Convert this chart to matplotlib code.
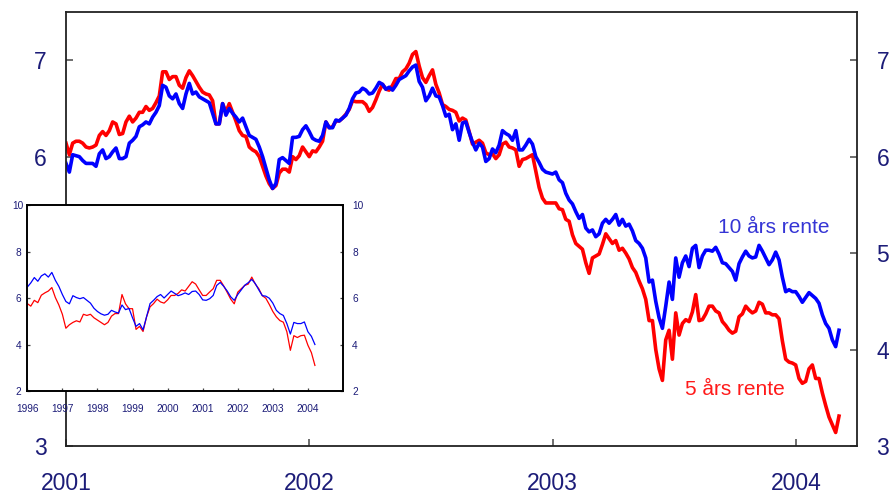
import numpy as np
import matplotlib
matplotlib.use('Agg')
import matplotlib.pyplot as plt

plt.rcParams['font.family'] = ['Liberation Sans', 'DejaVu Sans']

# ---------------- data ----------------
# main chart: observations every 5 days starting 1 Jan 2001
main_start_year = 2001.0
main_step_days = 5

ten_year = [
    5.93, 5.84, 6.02, 6.01, 6.00, 5.96, 5.93, 5.93, 5.93, 5.90,
    6.03, 6.07, 5.98, 6.00, 6.05, 6.09, 5.98, 5.98, 6.00, 6.14,
    6.17, 6.21, 6.31, 6.33, 6.36, 6.34, 6.41, 6.46, 6.53, 6.74,
    6.72, 6.63, 6.60, 6.65, 6.55, 6.50, 6.65, 6.76, 6.65, 6.67,
    6.62, 6.60, 6.58, 6.56, 6.45, 6.34, 6.34, 6.55, 6.43, 6.50,
    6.45, 6.41, 6.36, 6.40, 6.31, 6.22, 6.20, 6.18, 6.10, 6.00,
    5.88, 5.76, 5.67, 5.72, 5.97, 5.99, 5.96, 5.93, 6.20, 6.20,
    6.21, 6.28, 6.32, 6.26, 6.19, 6.17, 6.16, 6.22, 6.36, 6.30,
    6.30, 6.38, 6.37, 6.40, 6.43, 6.50, 6.60, 6.66, 6.67, 6.71,
    6.69, 6.65, 6.66, 6.71, 6.77, 6.75, 6.70, 6.72, 6.69, 6.74,
    6.80, 6.82, 6.84, 6.89, 6.93, 6.95, 6.78, 6.72, 6.58, 6.63,
    6.71, 6.63, 6.62, 6.53, 6.42, 6.44, 6.28, 6.34, 6.17, 6.35,
    6.36, 6.25, 6.15, 6.07, 6.14, 6.10, 5.95, 5.98, 6.08, 6.04,
    6.12, 6.27, 6.24, 6.22, 6.17, 6.27, 6.07, 6.07, 6.12, 6.18,
    6.13, 6.00, 5.94, 5.87, 5.84, 5.83, 5.82, 5.84, 5.76, 5.73,
    5.62, 5.55, 5.51, 5.43, 5.36, 5.40, 5.26, 5.22, 5.24, 5.17,
    5.20, 5.31, 5.35, 5.31, 5.35, 5.40, 5.29, 5.35, 5.28, 5.30,
    5.23, 5.13, 5.10, 5.05, 4.95, 4.70, 4.72, 4.50, 4.33, 4.22,
    4.45, 4.70, 4.52, 4.95, 4.75, 4.90, 4.97, 4.86, 5.05, 5.08,
    4.85, 4.97, 5.03, 5.03, 5.02, 5.06, 4.99, 4.90, 4.89, 4.85,
    4.81, 4.72, 4.89, 4.96, 5.02, 4.97, 4.95, 4.96, 5.08, 5.02,
    4.95, 4.88, 4.93, 5.01, 4.93, 4.75, 4.60, 4.62, 4.60, 4.60,
    4.55, 4.49, 4.54, 4.59, 4.56, 4.53, 4.48, 4.36, 4.27, 4.22,
    4.10, 4.03, 4.20,
]

five_year = [
    6.14, 6.02, 6.14, 6.16, 6.16, 6.14, 6.10, 6.09, 6.10, 6.12,
    6.22, 6.26, 6.22, 6.27, 6.36, 6.34, 6.23, 6.24, 6.36, 6.42,
    6.36, 6.40, 6.46, 6.46, 6.52, 6.48, 6.50, 6.56, 6.63, 6.88,
    6.88, 6.80, 6.83, 6.83, 6.74, 6.71, 6.82, 6.89, 6.84, 6.78,
    6.72, 6.67, 6.65, 6.64, 6.58, 6.34, 6.34, 6.55, 6.46, 6.55,
    6.46, 6.37, 6.27, 6.22, 6.21, 6.10, 6.07, 6.05, 6.00, 5.90,
    5.80, 5.72, 5.67, 5.70, 5.83, 5.87, 5.87, 5.84, 6.00, 5.97,
    6.01, 6.10, 6.05, 6.00, 6.06, 6.05, 6.10, 6.16, 6.36, 6.30,
    6.31, 6.37, 6.37, 6.40, 6.44, 6.49, 6.58, 6.57, 6.57, 6.57,
    6.54, 6.47, 6.51, 6.59, 6.68, 6.75, 6.70, 6.69, 6.74, 6.81,
    6.81, 6.88, 6.91, 6.97, 7.06, 7.09, 6.94, 6.82, 6.77, 6.84,
    6.90, 6.75, 6.66, 6.54, 6.52, 6.49, 6.48, 6.46, 6.37, 6.40,
    6.38, 6.26, 6.13, 6.15, 6.17, 6.14, 6.04, 6.02, 6.03, 5.98,
    6.02, 6.13, 6.15, 6.10, 6.09, 6.07, 5.90, 5.97, 5.98, 6.00,
    6.02, 5.85, 5.68, 5.57, 5.52, 5.52, 5.52, 5.52, 5.46, 5.45,
    5.35, 5.33, 5.19, 5.10, 5.07, 5.04, 4.90, 4.79, 4.95, 4.97,
    4.99, 5.09, 5.20, 5.15, 5.10, 5.13, 5.03, 5.05, 5.00, 4.94,
    4.85, 4.80, 4.71, 4.63, 4.52, 4.30, 4.30, 4.00, 3.80, 3.68,
    4.10, 4.20, 3.90, 4.38, 4.15, 4.27, 4.31, 4.29, 4.39, 4.57,
    4.30, 4.31, 4.37, 4.45, 4.45, 4.40, 4.38, 4.29, 4.25, 4.20,
    4.17, 4.19, 4.34, 4.37, 4.45, 4.41, 4.38, 4.40, 4.49, 4.47,
    4.38, 4.38, 4.36, 4.36, 4.32, 4.09, 3.90, 3.87, 3.86, 3.84,
    3.70, 3.65, 3.67, 3.80, 3.84, 3.70, 3.70, 3.55, 3.42, 3.30,
    3.22, 3.14, 3.31,
]

# inset chart: observations every 0.1 year starting 1996
inset_start_year = 1996.0
inset_step_years = 0.1

inset_ten = [
    6.47, 6.65, 6.88, 6.72, 6.95, 7.04, 6.90, 7.10, 6.76, 6.50,
    6.15, 5.85, 5.75, 6.10, 6.02, 5.97, 6.02, 5.90, 5.78, 5.56,
    5.42, 5.32, 5.26, 5.30, 5.47, 5.40, 5.35, 5.70, 5.50, 5.55,
    5.15, 4.78, 4.90, 4.63, 5.19, 5.76, 5.90, 6.06, 6.15, 6.00,
    6.15, 6.30, 6.20, 6.10, 6.15, 6.22, 6.15, 6.28, 6.30, 6.15,
    5.92, 5.90, 5.97, 6.11, 6.54, 6.67, 6.50, 6.30, 6.05, 5.90,
    6.15, 6.35, 6.55, 6.66, 6.80, 6.62, 6.35, 6.10, 6.08, 5.99,
    5.78, 5.47, 5.33, 5.25, 4.90, 4.45, 4.95, 4.90, 4.90, 4.97,
    4.55, 4.35, 4.00,
]

inset_five = [
    5.76, 5.65, 5.90, 5.80, 6.12, 6.22, 6.30, 6.45, 6.02, 5.70,
    5.30, 4.70, 4.85, 4.95, 5.02, 4.97, 5.30, 5.25, 5.30, 5.15,
    5.05, 4.95, 4.85, 4.95, 5.22, 5.33, 5.33, 6.15, 5.75, 5.54,
    5.54, 4.65, 4.78, 4.56, 5.19, 5.62, 5.76, 5.95, 5.83, 5.78,
    5.92, 6.11, 6.11, 6.20, 6.35, 6.30, 6.50, 6.70, 6.60, 6.35,
    6.11, 6.11, 6.26, 6.40, 6.76, 6.76, 6.52, 6.24, 5.95, 5.75,
    6.25, 6.40, 6.54, 6.60, 6.90, 6.60, 6.40, 6.10, 5.99, 5.72,
    5.42, 5.19, 5.03, 4.96, 4.55, 3.75, 4.38, 4.30, 4.38, 4.40,
    3.97, 3.65, 3.10,
]

main_xticks = [2001, 2002, 2003, 2004]
main_yticks = [3, 4, 5, 6, 7]
inset_xticks = [1996, 1997, 1998, 1999, 2000, 2001, 2002, 2003, 2004]
inset_yticks = [2, 4, 6, 8, 10]

label_ten = "10 års rente"
label_five = "5 års rente"

# ---------------- styling ----------------
BLUE = '#0000ff'
RED = '#ff0000'
NAVY = '#1c1c78'
TICKC = '#555555'

fig = plt.figure(figsize=(8.92, 4.94), dpi=100)

# main axes
ax = fig.add_axes([0.0740, 0.0972, 0.8868, 0.8785])
x_main = main_start_year + np.arange(len(ten_year)) * main_step_days / 365.25
ax.plot(x_main, five_year, color=RED, lw=2.6, solid_joinstyle='round')
ax.plot(x_main, ten_year, color=BLUE, lw=2.6, solid_joinstyle='round')
ax.set_xlim(2001.0, 2004.25)
ax.set_ylim(3.0, 7.5)
ax.set_xticks(main_xticks)
ax.set_xticklabels([str(t) for t in main_xticks])
ax.set_yticks(main_yticks)
ax.set_yticklabels([str(t) for t in main_yticks])
ax.tick_params(axis='both', direction='in', length=5, width=1.2,
               color=TICKC, labelcolor=NAVY, labelsize=16.5)
ax.tick_params(axis='y', left=True, right=True, labelleft=True,
               labelright=True, pad=14)
ax.tick_params(axis='x', pad=19)
for sp in ax.spines.values():
    sp.set_color('#222222')
    sp.set_linewidth(1.3)

ax.text(2003.6785, 5.263, label_ten, color='#3535d5', fontsize=15,
        ha='left', va='center')
ax.text(2003.5432, 3.585, label_five, color='#ff1a1a', fontsize=15,
        ha='left', va='center')

# inset axes
axi = fig.add_axes([0.0306, 0.2085, 0.3539, 0.3765], zorder=5)
axi.set_facecolor('white')
x_in = inset_start_year + np.arange(len(inset_ten)) * inset_step_years
axi.plot(x_in, inset_five, color=RED, lw=0.9)
axi.plot(x_in, inset_ten, color=BLUE, lw=0.9)
axi.set_xlim(1996, 2005)
axi.set_ylim(2, 10)
axi.set_xticks(inset_xticks)
axi.set_xticklabels([str(t) for t in inset_xticks])
axi.set_yticks(inset_yticks)
axi.set_yticklabels([str(t) for t in inset_yticks])
axi.tick_params(axis='both', direction='in', length=2.5, width=0.9,
                color='#444444', labelcolor=NAVY, labelsize=7.3)
axi.tick_params(axis='y', left=True, right=True, labelleft=True,
                labelright=True, pad=6.5)
axi.tick_params(axis='x', pad=9)
for lab in axi.get_yticklabels():
    lab.set_horizontalalignment('center')
for t in axi.yaxis.get_major_ticks():
    t.label2.set_horizontalalignment('left')
for sp in axi.spines.values():
    sp.set_color('#000000')
    sp.set_linewidth(1.4)

fig.savefig('out.png', dpi=100, facecolor='white')
